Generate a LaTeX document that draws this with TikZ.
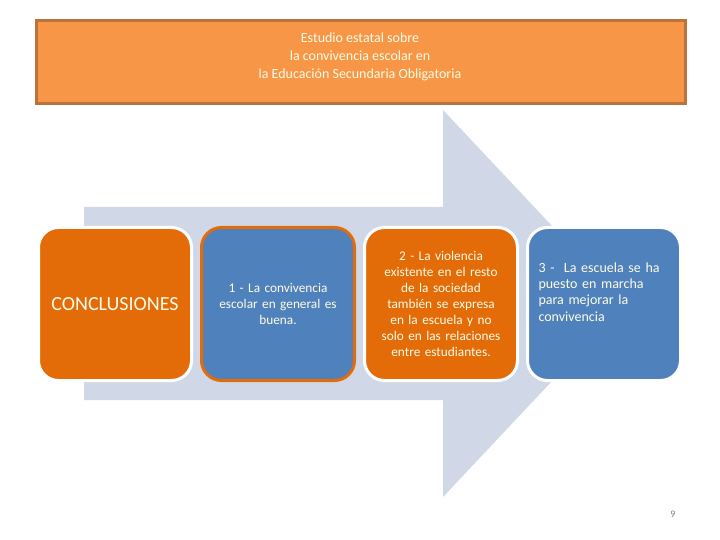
\documentclass[tikz,border=0pt]{standalone}
\usepackage{fontspec}
\setmainfont{Carlito}
\usepackage{tikz}
\usetikzlibrary{positioning, calc}
\definecolor{ttorange}{RGB}{247,150,70}
\definecolor{ttbrown}{RGB}{185,115,60}
\definecolor{cdorange}{RGB}{227,108,9}
\definecolor{cdblue}{RGB}{79,129,189}
\definecolor{arrowgray}{RGB}{208,216,232}
\definecolor{cream}{RGB}{255,252,230}

\begin{document}
\begin{tikzpicture}[x=1pt, y=-1pt, node distance=7pt,
  card/.style={rectangle, rounded corners=20pt, line width=3pt, draw=white, text=cream,
    minimum width=153pt, minimum height=153pt, inner sep=0pt, align=center},
  orangecard/.style={card, fill=cdorange},
  bluecard/.style={card, fill=cdblue},
  cardtext/.style={font=\fontsize{13.3}{16}\selectfont, text=cream, text width=145pt}
]
\useasboundingbox (0,0) rectangle (720,540);
% title banner
\node[rectangle, draw=ttbrown, line width=3pt, fill=ttorange, minimum width=649pt, minimum height=83pt,
  inner sep=0pt] (title) at (360.5,62.5) {};
\node[font=\fontsize{14}{18}\selectfont, text=cream, align=center, anchor=north] (titletext) at (360,29)
  {Estudio estatal sobre\\la convivencia escolar en\\la Educación Secundaria Obligatoria};
% big background arrow
\fill[arrowgray] (84,207) -- (443,207) -- (443,110) -- (625,303.5) -- (443,497) -- (443,400) -- (84,400) -- cycle;
% the four cards
\node[orangecard, font=\fontsize{20}{24}\selectfont] (concl) at (115,304) {CONCLUSIONES};
\node[bluecard, draw=cdorange, right=of concl] (c1) {};
\node[orangecard, right=of c1] (c2) {};
\node[bluecard, right=of c2] (c3) {};
\node[cardtext, align=center] (t1) at (c1.center) {1 - La convivencia\\escolar en general es\\buena.};
\node[cardtext, align=center] (t2) at (c2.center) {2 - La violencia\\existente en el resto\\de la sociedad\\también se expresa\\en la escuela y no\\solo en las relaciones\\entre estudiantes.};
\node[cardtext, font=\fontsize{14}{16.3}\selectfont, align=left, text width=140pt, anchor=north west]
  (t3) at ($(c3.north west)+(9,33)$)
  {3 -\ \ La escuela se ha\\puesto en marcha\\para mejorar la\\convivencia};
% page number
\node[font=\fontsize{10}{12}\selectfont, text=gray] (pagenum) at (673,514) {9};
\end{tikzpicture}
\end{document}
